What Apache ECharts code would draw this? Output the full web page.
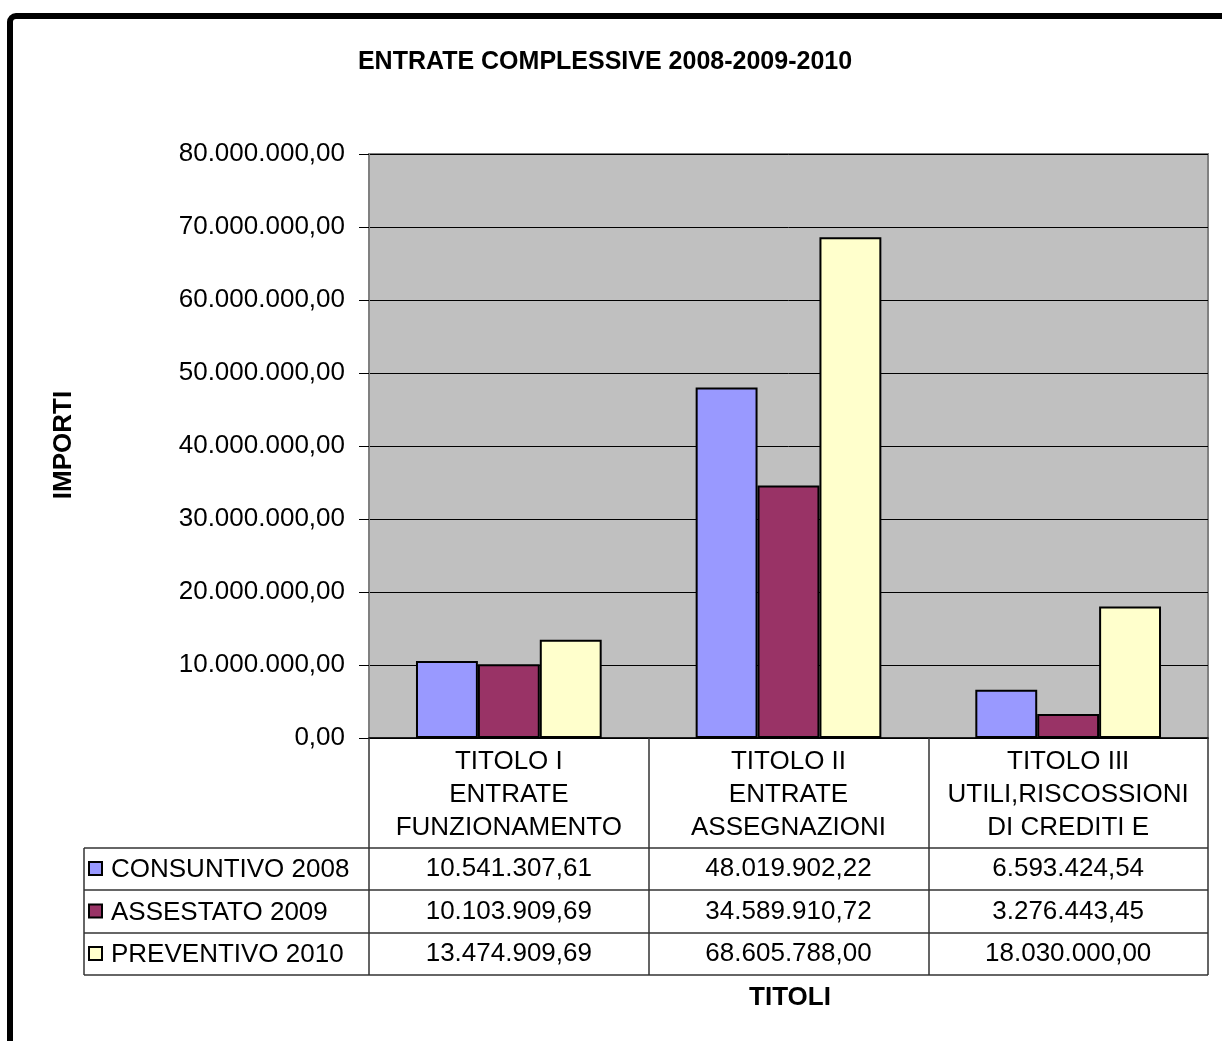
<!DOCTYPE html>
<html><head><meta charset="utf-8">
<script src="https://cdn.jsdelivr.net/npm/echarts@6/dist/echarts.min.js"></script>
<style>html,body{margin:0;padding:0;background:#fff}#c{width:1222px;height:1041px}</style>
</head><body><div id="c"></div>
<script>
const categories = ['TITOLO I\nENTRATE\nFUNZIONAMENTO', 'TITOLO II\nENTRATE\nASSEGNAZIONI', 'TITOLO III\nUTILI,RISCOSSIONI\nDI CREDITI E'];
const seriesNames = ['CONSUNTIVO 2008', 'ASSESTATO 2009', 'PREVENTIVO 2010'];
const consuntivo2008 = [10541307.61, 48019902.22, 6593424.54];
const assestato2009 = [10103909.69, 34589910.72, 3276443.45];
const preventivo2010 = [13474909.69, 68605788.00, 18030000.00];
const colors = ['#9999FF', '#993366', '#FFFFCC'];
const allData = [consuntivo2008, assestato2009, preventivo2010];

function fmtIt(v) {
  const neg = v < 0; v = Math.abs(v);
  const s = v.toFixed(2);
  let [i, d] = s.split('.');
  i = i.replace(/\B(?=(\d{3})+(?!\d))/g, '.');
  return (neg ? '-' : '') + i + ',' + d;
}

const FONT = '"Liberation Sans", Arial, sans-serif';
const gL = 369, gR = 1208, gT = 154, gB = 738;
const rowH = [848, 890, 933, 975];
const tableLeft = 84;
const colW = (gR - gL) / categories.length;

const graphics = [];
graphics.push({type: 'rect', shape: {x: 10, y: 16, width: 1300, height: 1100, r: 6},
  style: {fill: 'none', stroke: '#000', lineWidth: 6}, z: 10});
graphics.push({type: 'text', x: 605, y: 62, style: {text: 'ENTRATE COMPLESSIVE 2008-2009-2010',
  font: 'bold 25px ' + FONT, fill: '#000', textAlign: 'center', textVerticalAlign: 'middle'}});
graphics.push({type: 'text', x: 64, y: 445, rotation: Math.PI / 2, style: {text: 'IMPORTI',
  font: 'bold 26px ' + FONT, fill: '#000', textAlign: 'center', textVerticalAlign: 'middle'}});
graphics.push({type: 'text', x: 790, y: 998, style: {text: 'TITOLI',
  font: 'bold 26px ' + FONT, fill: '#000', textAlign: 'center', textVerticalAlign: 'middle'}});
rowH.forEach(function (y) {
  graphics.push({type: 'line', shape: {x1: tableLeft, y1: y, x2: gR, y2: y},
    style: {stroke: '#333', lineWidth: 1.5}});
});
graphics.push({type: 'line', shape: {x1: tableLeft, y1: rowH[0], x2: tableLeft, y2: rowH[3]},
  style: {stroke: '#333', lineWidth: 1.5}});
seriesNames.forEach(function (name, r) {
  const yc = (rowH[r] + rowH[r + 1]) / 2;
  graphics.push({type: 'rect', shape: {x: 89, y: yc - 7, width: 13, height: 13},
    style: {fill: colors[r], stroke: '#000', lineWidth: 2}});
  graphics.push({type: 'text', x: 111, y: yc + 1, style: {text: name, font: '26px ' + FONT,
    fill: '#000', textAlign: 'left', textVerticalAlign: 'middle'}});
  allData[r].forEach(function (v, c) {
    graphics.push({type: 'text', x: gL + colW * (c + 0.5), y: yc, style: {text: fmtIt(v),
      font: '26px ' + FONT, fill: '#000', textAlign: 'center', textVerticalAlign: 'middle'}});
  });
});

const chart = echarts.init(document.getElementById('c'));
chart.setOption({
  animation: false,
  backgroundColor: '#fff',
  grid: {left: gL, right: 1222 - gR, top: gT, bottom: 1041 - gB, show: true,
    backgroundColor: '#C0C0C0', borderColor: '#808080', borderWidth: 2},
  xAxis: {
    type: 'category', data: categories,
    axisLine: {lineStyle: {color: '#000', width: 1.5}},
    axisTick: {show: true, length: 237, lineStyle: {color: '#333', width: 1.5}},
    axisLabel: {fontFamily: FONT, fontSize: 26, color: '#000', lineHeight: 33, margin: 7, interval: 0}
  },
  yAxis: {
    type: 'value', min: 0, max: 80000000, interval: 10000000,
    axisLine: {show: true, lineStyle: {color: '#808080', width: 2}},
    axisTick: {show: true, length: 10, lineStyle: {color: '#000'}},
    axisLabel: {fontFamily: FONT, fontSize: 26, color: '#000', margin: 24, formatter: fmtIt},
    splitLine: {lineStyle: {color: '#000', width: 1}}
  },
  series: seriesNames.map(function (n, i) {
    return {name: n, type: 'bar', data: allData[i], barGap: '0%', barCategoryGap: '33.6%',
      itemStyle: {color: colors[i], borderColor: '#000', borderWidth: 2}};
  }),
  graphic: graphics
});
</script></body></html>
